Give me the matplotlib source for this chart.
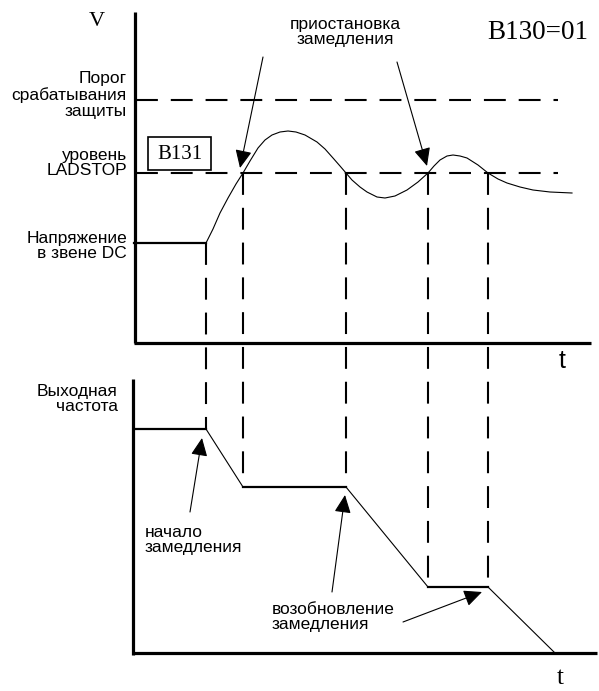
import matplotlib
matplotlib.use("Agg")
import matplotlib.pyplot as plt
from matplotlib.patches import Rectangle

# positions, in image pixels (y grows downward)
W, H = 599, 691

# time marks: start of decel, LADSTOP crossings
t_marks = [206, 243, 346, 428, 488]

# voltage levels
v_trip = 100
v_ladstop = 173
v_dc = 243

# DC bus voltage curve
curve_x = [134, 206, 213, 220, 228, 236, 243, 250, 258, 265, 272, 280, 288, 296,
           305, 317, 325, 333, 340, 346, 352, 360, 367, 377, 385, 395, 407, 418,
           428, 434, 440, 447, 453, 460, 467, 478, 488, 498, 507, 520, 533, 550, 572]
curve_y = [243, 243, 229, 213, 198, 184, 173, 161, 148, 140, 135, 132, 131, 132,
           135, 142, 149, 158, 166, 173, 180, 187, 192, 197, 198, 196, 190, 182,
           173, 166, 160, 156, 155, 156, 158, 165, 173, 179, 183, 187, 190, 192, 193]

# output frequency
freq_x = [134, 206, 243, 346, 428, 488, 555]
freq_y = [429, 429, 487, 487, 587, 587, 653]

# axes
top_axis_y = 343
bot_axis_y = 653
axis_x = 134

sans = "Liberation Sans"
serif = "Liberation Serif"

fig = plt.figure(figsize=(W / 100, H / 100), dpi=100)
ax = fig.add_axes([0, 0, 1, 1])
ax.set_xlim(0, W)
ax.set_ylim(H, 0)
ax.axis("off")

axis_lw = 2.3
dash = (0, (10.5, 6.2))

# upper plot axes
ax.plot([axis_x + 1, axis_x + 1], [12, top_axis_y], color="black", lw=axis_lw, solid_capstyle="butt")
ax.plot([axis_x, 591], [top_axis_y, top_axis_y], color="black", lw=axis_lw, solid_capstyle="butt")
# lower plot axes
ax.plot([axis_x - 1, axis_x - 1], [379, bot_axis_y + 2], color="black", lw=axis_lw, solid_capstyle="butt")
ax.plot([axis_x - 1, 597], [bot_axis_y, bot_axis_y], color="black", lw=axis_lw, solid_capstyle="butt")

# horizontal dashed levels
for lvl in (v_trip, v_ladstop):
    ax.plot([axis_x + 2, 558], [lvl, lvl], color="black", lw=1.5, linestyle=dash)

# vertical dashed guides
v_from = [v_dc, v_ladstop, v_ladstop, v_ladstop, v_ladstop]
v_to = [freq_y[1], freq_y[2], freq_y[3], freq_y[4], freq_y[5]]
for x, y0, y1 in zip(t_marks, v_from, v_to):
    ax.plot([x, x], [y0, y1], color="black", lw=1.5, linestyle=dash)

# curves
ax.plot(curve_x[:2], curve_y[:2], color="black", lw=1.6)
ax.plot(curve_x[1:], curve_y[1:], color="black", lw=0.8)
for i in range(len(freq_x) - 1):
    flat = freq_y[i] == freq_y[i + 1]
    ax.plot(freq_x[i:i + 2], freq_y[i:i + 2], color="black", lw=1.6 if flat else 0.8)

# B131 box
ax.add_patch(Rectangle((148, 137), 63, 33, fill=False, lw=1.2, edgecolor="black"))
ax.text(179.5, 154, "B131", family=serif, fontsize=15, ha="center", va="center")

ax.text(97, 21, "V", family=serif, fontsize=16, ha="center", va="center")
ax.text(588, 32, "B130=01", family=serif, fontsize=19.5, ha="right", va="center")
ax.text(562, 361, "t", family=sans, fontsize=18, ha="center", va="center")
ax.text(560, 678, "t", family=serif, fontsize=18, ha="center", va="center")

lab = dict(family=sans, fontsize=12.5, linespacing=1.05)
ax.text(127, 95, "Порог\nсрабатывания\nзащиты", ha="right", va="center", **lab)
ax.text(127, 163, "уровень\nLADSTOP", ha="right", va="center", **lab)
ax.text(127, 246, "Напряжение\nв звене DC", ha="right", va="center", **lab)
ax.text(118, 399, "Выходная\nчастота", ha="right", va="center", **lab)
ax.text(345, 32, "приостановка\nзамедления", ha="center", va="center", **lab)
ax.text(145, 540, "начало\nзамедления", ha="left", va="center", **lab)
ax.text(272, 617, "возобновление\nзамедления", ha="left", va="center", **lab)

# arrows: (tail, tip)
arrows = [
    ((263, 57), (240, 168)),
    ((397, 62), (427, 166)),
    ((190, 512), (202, 438)),
    ((332, 592), (345, 495)),
    ((403, 622), (482, 592)),
]
for tail, tip in arrows:
    ax.annotate("", xy=tip, xytext=tail,
                arrowprops=dict(arrowstyle="-|>,head_length=0.65,head_width=0.3",
                                mutation_scale=17, lw=0.8, color="black",
                                shrinkA=0, shrinkB=0))

plt.savefig("out.png", dpi=100)
